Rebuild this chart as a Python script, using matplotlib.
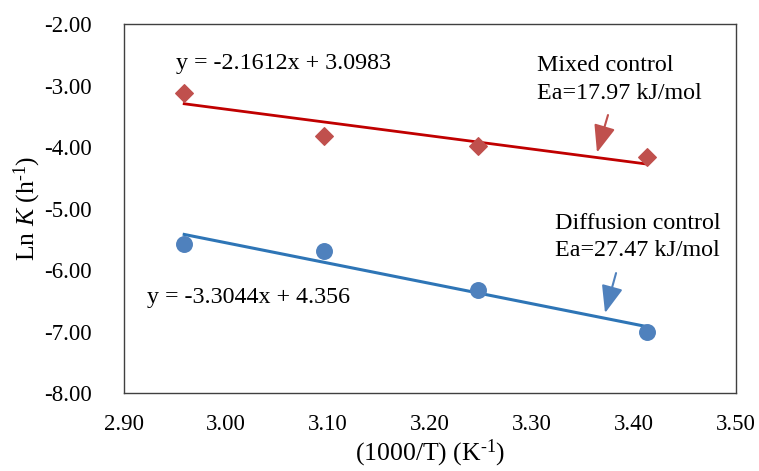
import numpy as np
import matplotlib
matplotlib.use("Agg")
import matplotlib.pyplot as plt

plt.rcParams['font.family'] = ['Liberation Serif', 'DejaVu Serif']
plt.rcParams['mathtext.fontset'] = 'custom'
plt.rcParams['mathtext.rm'] = 'Liberation Serif'
plt.rcParams['mathtext.it'] = 'Liberation Serif:italic'

# data
inv_T = [2.959, 3.096, 3.247, 3.413]
lnk_mixed = [-3.12, -3.82, -3.98, -4.16]
lnk_diff = [-5.58, -5.69, -6.33, -7.01]

# trendline coefficients as printed on the chart
fit_mixed = (-2.1612, 3.0983)
fit_diff = (-3.3044, 4.356)

xticks = [2.90, 3.00, 3.10, 3.20, 3.30, 3.40, 3.50]
yticks = [-2, -3, -4, -5, -6, -7, -8]

fig = plt.figure(figsize=(7.59, 4.71), dpi=100)
ax = fig.add_axes([0.1634, 0.1656, 0.8063, 0.7834])

x = np.array(inv_T)
ax.plot(x, fit_mixed[0] * x + fit_mixed[1], color='#C00000', lw=2, zorder=2)
ax.plot(x, fit_diff[0] * x + fit_diff[1], color='#2E75B6', lw=2.2, zorder=2)
ax.scatter(inv_T, lnk_mixed, marker='D', s=80, color='#C0504D', zorder=3)
ax.scatter(inv_T, lnk_diff, marker='o', s=125, color='#4F81BD', zorder=3)

fs = 17.3
ax.text(2.951, -2.65, 'y = -2.1612x + 3.0983', fontsize=fs, va='center')
ax.text(2.9225, -6.44, 'y = -3.3044x + 4.356', fontsize=fs, va='center')
ax.text(3.305, -2.67, 'Mixed control', fontsize=fs, va='center')
ax.text(3.305, -3.13, 'Ea=17.97 kJ/mol', fontsize=fs, va='center')
ax.text(3.3225, -5.24, 'Diffusion control', fontsize=fs, va='center')
ax.text(3.3225, -5.69, 'Ea=27.47 kJ/mol', fontsize=fs, va='center')

ax.annotate('', xy=(3.3637, -4.09), xytext=(3.3745, -3.48),
            arrowprops=dict(arrowstyle='-|>,head_width=0.55,head_length=1.4',
                            mutation_scale=12, color='#C0504D', lw=1.5,
                            shrinkA=0, shrinkB=0))
ax.annotate('', xy=(3.3716, -6.70), xytext=(3.3824, -6.05),
            arrowprops=dict(arrowstyle='-|>,head_width=0.55,head_length=1.4',
                            mutation_scale=12, color='#4F81BD', lw=1.5,
                            shrinkA=0, shrinkB=0))

ax.set_xlim(2.9, 3.5)
ax.set_ylim(-8, -2)
ax.set_xticks(xticks)
ax.set_yticks(yticks)
ax.set_xticklabels([f'{v:.2f}' for v in xticks])
ax.set_yticklabels([f'{v:.2f}' for v in yticks])
ax.tick_params(length=0, labelsize=16.5)
ax.tick_params(axis='y', pad=23)
ax.tick_params(axis='x', pad=15)
for s in ax.spines.values():
    s.set_color('#404040')
    s.set_linewidth(1)

ax.set_xlabel(r'(1000/T) (K$^{\text{-1}}$)', fontsize=18.5, labelpad=2)
ax.set_ylabel(r'Ln $\mathit{K}$ (h$^{\text{-1}}$)', fontsize=18.5, labelpad=1)

fig.savefig('out.png', dpi=100)
